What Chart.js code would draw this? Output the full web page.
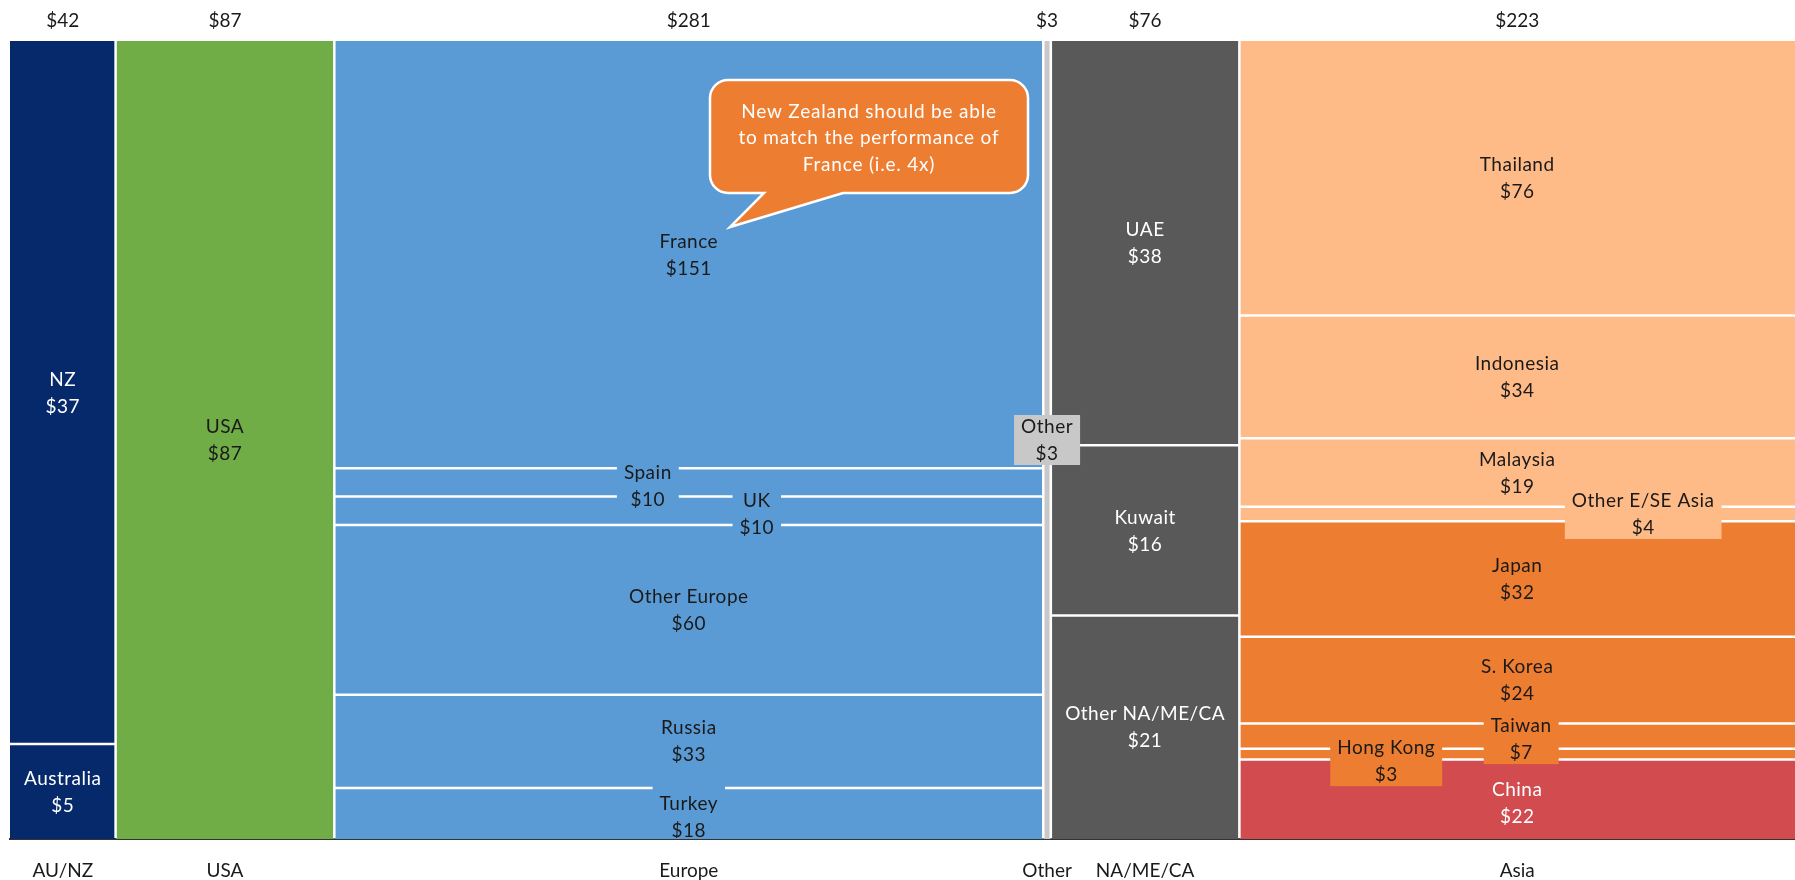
<!DOCTYPE html>
<html>
<head>
<meta charset="utf-8">
<script src="https://cdn.jsdelivr.net/npm/chart.js@4.4.1/dist/chart.umd.min.js"></script>
<style>
html, body { margin: 0; padding: 0; background: #fff; }
#wrap { width: 1795px; height: 880px; position: relative; }
</style>
</head>
<body>
<div id="wrap"><canvas id="myChart"></canvas></div>
<script>
const regions = ["AU/NZ", "USA", "Europe", "Other", "NA/ME/CA", "Asia"];
const regionTotals = [42, 87, 281, 3, 76, 223];

// segments, listed top to bottom inside each column
const segNames = ["NZ", "Australia",
  "USA",
  "France", "Spain", "UK", "Other Europe", "Russia", "Turkey",
  "Other",
  "UAE", "Kuwait", "Other NA/ME/CA",
  "Thailand", "Indonesia", "Malaysia", "Other E/SE Asia", "Japan", "S. Korea", "Taiwan", "Hong Kong", "China"];
const segRegion = [0, 0, 1, 2, 2, 2, 2, 2, 2, 3, 4, 4, 4, 5, 5, 5, 5, 5, 5, 5, 5, 5];
const segValues = [37, 5, 87, 151, 10, 10, 60, 33, 18, 3, 38, 16, 21, 76, 34, 19, 4, 32, 24, 7, 3, 22];

const NAVY = "#05296B", GREEN = "#70AD47", BLUE = "#5B9BD5", LGRAY = "#C8C8C8",
      DGRAY = "#595959", PEACH = "#FFBB87", ORANGE = "#ED7D31", RED = "#D24B4F";
const segColors = [NAVY, NAVY, GREEN, BLUE, BLUE, BLUE, BLUE, BLUE, BLUE, LGRAY,
  DGRAY, DGRAY, DGRAY, PEACH, PEACH, PEACH, PEACH, ORANGE, ORANGE, ORANGE, ORANGE, RED];
const W = "#ffffff", K = "#1a1a1a";
const segTextColors = [W, W, K, K, K, K, K, K, K, K, W, W, W, K, K, K, K, K, K, K, K, W];

// labels that were pushed aside in the original: [dx, dy, box height] in px
const labelNudge = {
  "Spain": [-41, 3], "UK": [68, 3], "Turkey": [0, 3, 62], "Other E/SE Asia": [126, 0],
  "Taiwan": [4, 3], "Hong Kong": [-131, 7], "China": [0, 4]
};

const FONT = "Lato, 'DejaVu Sans', sans-serif";

// column widths = sum of the cells in the column (100% stack inside)
const colSum = regions.map((r, i) =>
  segValues.filter((v, j) => segRegion[j] === i).reduce((a, b) => a + b, 0));
const colStart = [];
let acc = 0;
colSum.forEach(t => { colStart.push(acc); acc += t; });
const xMax = acc;
const colCenter = colSum.map((t, i) => colStart[i] + t / 2);

const segTop = [], segBottom = [];
const used = regions.map(() => 0);
segValues.forEach((v, j) => {
  const c = segRegion[j];
  segTop.push(100 - used[c] / colSum[c] * 100);
  used[c] += v;
  segBottom.push(100 - used[c] / colSum[c] * 100);
});

const datasets = segValues.map((v, j) => {
  const c = segRegion[j];
  return {
    label: segNames[j],
    data: [{x: colStart[c], y: segTop[j]}, {x: colStart[c] + colSum[c], y: segTop[j]}],
    fill: {value: segBottom[j]},
    backgroundColor: segColors[j],
    borderColor: "rgba(0,0,0,0)",
    borderWidth: 0,
    pointRadius: 0,
    pointHoverRadius: 0,
    tension: 0
  };
});

// white lines between cells and columns
const separators = {
  id: "separators",
  afterDatasetsDraw(chart) {
    const {ctx, chartArea, scales: {x, y}} = chart;
    ctx.save();
    ctx.strokeStyle = "#fff";
    ctx.lineWidth = 2.5;
    ctx.beginPath();
    segValues.forEach((v, j) => {
      if (segTop[j] >= 100) return;
      const c = segRegion[j];
      const yy = y.getPixelForValue(segTop[j]);
      ctx.moveTo(x.getPixelForValue(colStart[c]), yy);
      ctx.lineTo(x.getPixelForValue(colStart[c] + colSum[c]), yy);
    });
    colStart.slice(1).forEach(s => {
      const xx = x.getPixelForValue(s);
      ctx.moveTo(xx, chartArea.top);
      ctx.lineTo(xx, chartArea.bottom - 1);
    });
    ctx.stroke();
    ctx.restore();
  }
};

const segLabels = {
  id: "segLabels",
  afterDatasetsDraw(chart) {
    const {ctx, chartArea, scales: {x, y}} = chart;
    ctx.save();
    ctx.beginPath();
    ctx.rect(chartArea.left, chartArea.top, chartArea.right - chartArea.left, chartArea.bottom - chartArea.top - 1);
    ctx.clip();
    ctx.font = "19px " + FONT;
    ctx.letterSpacing = "0.5px";
    ctx.textAlign = "center";
    ctx.textBaseline = "middle";
    segValues.forEach((v, j) => {
      const c = segRegion[j];
      const n = labelNudge[segNames[j]] || [0, 0];
      const cx = x.getPixelForValue(colCenter[c]) + n[0];
      const cy = y.getPixelForValue((segTop[j] + segBottom[j]) / 2) + n[1];
      const lines = [segNames[j], "$" + v];
      const w = Math.max(...lines.map(l => ctx.measureText(l).width)) + 14;
      const h = n[2] || 50;
      ctx.fillStyle = segColors[j];
      ctx.fillRect(cx - w / 2, cy - h / 2, w, h);
      ctx.fillStyle = segTextColors[j];
      ctx.fillText(lines[0], cx, cy - 13);
      ctx.fillText(lines[1], cx, cy + 14);
    });
    ctx.restore();
  }
};

// speech bubble note
const callout = {
  id: "callout",
  afterDatasetsDraw(chart) {
    const ctx = chart.ctx;
    const l = 710, t = 80, r = 1028, b = 193, rad = 18;
    ctx.save();
    ctx.beginPath();
    ctx.moveTo(l + rad, t);
    ctx.lineTo(r - rad, t);
    ctx.arcTo(r, t, r, t + rad, rad);
    ctx.lineTo(r, b - rad);
    ctx.arcTo(r, b, r - rad, b, rad);
    ctx.lineTo(843, b);
    ctx.lineTo(730, 227);
    ctx.lineTo(764, b);
    ctx.lineTo(l + rad, b);
    ctx.arcTo(l, b, l, b - rad, rad);
    ctx.lineTo(l, t + rad);
    ctx.arcTo(l, t, l + rad, t, rad);
    ctx.closePath();
    ctx.fillStyle = ORANGE;
    ctx.fill();
    ctx.strokeStyle = "#fff";
    ctx.lineWidth = 2.5;
    ctx.stroke();
    ctx.fillStyle = "#fff";
    ctx.font = "19px " + FONT;
    ctx.letterSpacing = "0.8px";
    ctx.textAlign = "center";
    ctx.textBaseline = "middle";
    ctx.fillText("New Zealand should be able", 869, 112);
    ctx.fillText("to match the performance of", 869, 138);
    ctx.fillText("France (i.e. 4x)", 869, 165);
    ctx.restore();
  }
};

const tickFont = {family: FONT, size: 19};

new Chart("myChart", {
  type: "line",
  data: {datasets: datasets},
  plugins: [separators, segLabels, callout],
  options: {
    responsive: true,
    maintainAspectRatio: false,
    animation: false,
    events: [],
    layout: {padding: {left: 10, right: 0, top: 0, bottom: 0}},
    plugins: {legend: {display: false}, tooltip: {enabled: false}},
    scales: {
      x: {
        type: "linear", position: "bottom", min: 0, max: xMax,
        grid: {display: false, drawTicks: false},
        border: {display: true, color: "#333", width: 2},
        afterBuildTicks: s => { s.ticks = colCenter.map(v => ({value: v})); },
        afterFit: s => { s.height = 41; },
        ticks: {
          autoSkip: false, maxRotation: 0, padding: 20, color: K, font: tickFont,
          callback: (v, i) => regions[i]
        }
      },
      x2: {
        type: "linear", position: "top", min: 0, max: xMax,
        grid: {display: false, drawTicks: false},
        border: {display: false},
        afterBuildTicks: s => { s.ticks = colCenter.map(v => ({value: v})); },
        afterFit: s => { s.height = 41; },
        ticks: {
          autoSkip: false, maxRotation: 0, padding: 9, color: K, font: tickFont,
          callback: (v, i) => "$" + regionTotals[i]
        }
      },
      y: {type: "linear", min: 0, max: 100, display: false}
    }
  }
});
</script>
</body>
</html>
